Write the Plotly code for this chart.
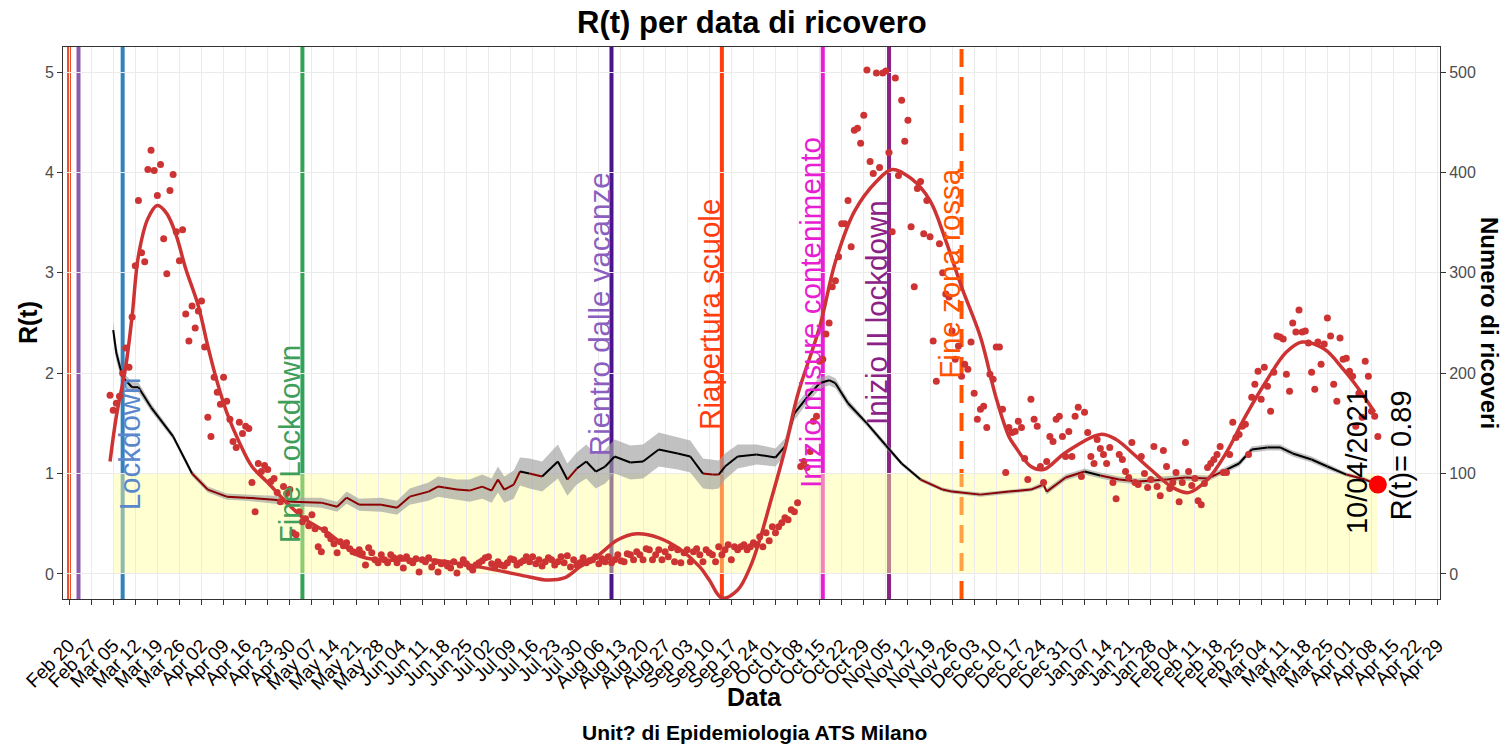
import plotly.graph_objects as go
import pandas as pd

FONT = "Liberation Sans, Arial, sans-serif"

# ---------------- data: daily hospital admissions (right axis) ----------------
ric_start_1 = "2020-03-04"
ric_1 = [178, 163, 170, 177, 200, 225, 206, 256, 307, 372,
         320, 311, 403, 422, 402, 377, 408, 334, 299, 382,
         398, 341, 312, 343, 259, 232, 267, 245, 262, 272,
         226, 156, 137, 196, 181, 169, 196, 172, 154, 132,
         126, 151, 140, 147, 145, 91, 62, 110, 102, 108,
         104, 92, 95, 81, 72, 87, 80, 84, 41, 39,
         62, 52, 55, 48, 59, 45, 27, 22, 44, 39,
         35, 30, 21, 32, 28, 31, 25, 22, 21, 24, 20]
ric_start_2 = "2020-05-24"
ric_2 = [9, 26, 21, 14, 11, 19, 14, 11, 19, 16,
         11, 16, 6, 17, 13, 11, 15, 2, 14, 12,
         16, 7, 12, 2, 10, 11, 8, 6, 12, 1,
         9, 14, 10, 7, 4, 9, 11, 13, 16, 17,
         10, 7, 12, 9, 8, 11, 15, 14, 9, 11,
         13, 17, 12, 17, 10, 14, 8, 12, 16, 14,
         9, 12, 17, 11, 18, 7, 14, 9, 11, 16,
         11, 13, 14, 17, 10, 15, 12, 17, 11, 14,
         19, 13, 12, 20, 19, 14, 22, 19, 14, 25,
         24, 14, 19, 24, 14, 22, 17, 26, 12, 24,
         11, 21, 24, 12, 22, 25, 19, 12, 24, 21,
         19, 12, 27, 19, 24, 29, 14, 27, 24, 27,
         29, 24, 27, 31, 29, 37, 27, 41, 33, 47,
         41, 47, 51, 56, 54, 64, 62, 71]
ric_start_3 = "2020-10-09"
ric_3 = [107, 112, 106, 122, 152, 157, 212, 214, 239, 250,
         286, 292, 316, 349, 349, 372, 326, 442, 444, 429,
         457, 502, 411, 399, 499, 405, 499, 501, 420, 341,
         494, 397, 472, 431, 452, 346, 286, 384, 391, 339,
         372, 336, 232, 192, 329, 300, 279, 276, 242, 214,
         227, 197, 209, 204, 231, 180, 154, 164, 167, 146,
         199, 194, 226, 226, 164, 101, 146, 141, 142, 152]
ric_start_4 = "2020-12-18"
ric_4 = [146, 115, 94, 174, 154, 147, 107, 91, 112, 137,
         132, 154, 157, 137, 117, 142, 117, 157, 166, 97,
         161, 141, 117, 110, 134, 125, 119, 110, 126, 91,
         75, 119, 114, 102, 96, 131, 91, 89, 117, 100,
         86, 94, 127, 87, 78, 123, 107, 85, 91, 101,
         72, 91, 131, 102, 88, 95, 73, 69, 90, 106,
         110, 114, 119, 127, 101, 101, 119, 151, 136, 139,
         147, 149, 119, 176, 189, 202, 174, 206, 187, 162,
         201, 237, 236, 234, 199, 182, 250, 241, 263, 241,
         242, 230, 201, 184, 231, 209, 229, 255, 237, 189,
         172, 235, 214, 215, 202, 197, 147, 180, 156, 212,
         197, 162, 157, 137]

# smoothed admissions curve (right axis)
fit_dates = ["2020-03-04", "2020-03-06", "2020-03-09", "2020-03-11", "2020-03-13", "2020-03-16",
             "2020-03-19", "2020-03-22", "2020-03-25", "2020-03-28", "2020-04-01", "2020-04-04",
             "2020-04-07", "2020-04-10", "2020-04-14", "2020-04-18", "2020-04-23", "2020-04-29",
             "2020-05-05", "2020-05-12", "2020-05-22", "2020-05-29", "2020-06-13", "2020-06-29",
             "2020-07-15", "2020-07-20", "2020-07-26", "2020-07-31", "2020-08-06", "2020-08-12",
             "2020-08-18", "2020-08-25", "2020-09-01", "2020-09-07", "2020-09-10", "2020-09-14",
             "2020-09-19", "2020-09-23", "2020-09-26", "2020-09-29", "2020-10-04", "2020-10-08",
             "2020-10-15", "2020-10-20", "2020-10-26", "2020-11-02", "2020-11-07", "2020-11-13",
             "2020-11-19", "2020-11-24", "2020-11-29", "2020-12-05", "2020-12-10", "2020-12-14",
             "2020-12-16", "2020-12-21", "2020-12-25", "2021-01-01", "2021-01-12", "2021-01-17",
             "2021-01-22", "2021-01-28", "2021-02-04", "2021-02-09", "2021-02-15", "2021-02-21",
             "2021-02-27", "2021-03-06", "2021-03-12", "2021-03-17", "2021-03-24", "2021-03-30",
             "2021-04-04", "2021-04-09"]
fit_values = [112, 157, 207, 257, 317, 354,
              367, 359, 337, 304, 267, 227,
              191, 161, 131, 107, 91, 71,
              54, 41, 18, 14, 14, 7,
              -3, -6, -4, 7, 19, 34,
              40, 36, 24, 7, -6, -24,
              -16, 7, 34, 67, 124, 178,
              246, 311, 361, 391, 403, 394,
              372, 332, 286, 236, 175, 137,
              127, 107, 104, 121, 139, 134,
              121, 104, 86, 81, 94, 121,
              157, 194, 221, 231, 224, 204,
              184, 161]

# R(t) estimate with credible band (left axis)
rt_dates = ["2020-03-05", "2020-03-06", "2020-03-08", "2020-03-11", "2020-03-13", "2020-03-17",
            "2020-03-24", "2020-03-30", "2020-04-04", "2020-04-10", "2020-04-16", "2020-04-25",
            "2020-05-01", "2020-05-10", "2020-05-15", "2020-05-18", "2020-05-22", "2020-05-29",
            "2020-06-03", "2020-06-07", "2020-06-13", "2020-06-16", "2020-06-18", "2020-06-22",
            "2020-06-26", "2020-06-30", "2020-07-03", "2020-07-05", "2020-07-07", "2020-07-10",
            "2020-07-12", "2020-07-15", "2020-07-19", "2020-07-24", "2020-07-27", "2020-07-30",
            "2020-08-02", "2020-08-05", "2020-08-08", "2020-08-11", "2020-08-16", "2020-08-20",
            "2020-08-25", "2020-08-31", "2020-09-04", "2020-09-08", "2020-09-11", "2020-09-13",
            "2020-09-15", "2020-09-19", "2020-09-25", "2020-10-01", "2020-10-04", "2020-10-07",
            "2020-10-11", "2020-10-15", "2020-10-18", "2020-10-20", "2020-10-24", "2020-10-30",
            "2020-11-05", "2020-11-10", "2020-11-16", "2020-11-23", "2020-11-26", "2020-12-05",
            "2020-12-14", "2020-12-21", "2020-12-25", "2020-12-26", "2021-01-01", "2021-01-07",
            "2021-01-12", "2021-01-18", "2021-01-24", "2021-02-02", "2021-02-08", "2021-02-15",
            "2021-02-21", "2021-02-25", "2021-03-01", "2021-03-06", "2021-03-10", "2021-03-14",
            "2021-03-20", "2021-03-25", "2021-03-31", "2021-04-06", "2021-04-10"]
rt_values = [2.43, 2.20, 1.96, 1.86, 1.86, 1.66,
             1.37, 1.00, 0.84, 0.77, 0.76, 0.74,
             0.72, 0.71, 0.67, 0.76, 0.69, 0.69,
             0.66, 0.77, 0.82, 0.87, 0.86, 0.84,
             0.83, 0.87, 0.83, 0.94, 0.84, 0.89,
             1.02, 1.00, 0.97, 1.12, 0.94, 1.05,
             1.12, 1.02, 1.07, 1.17, 1.11, 1.12,
             1.24, 1.20, 1.17, 1.00, 0.99, 0.99,
             1.07, 1.17, 1.19, 1.16, 1.27, 1.60,
             1.76, 1.90, 1.93, 1.90, 1.70, 1.50,
             1.28, 1.10, 0.94, 0.84, 0.82, 0.79,
             0.82, 0.84, 0.89, 0.82, 0.96, 1.02,
             0.98, 0.94, 0.92, 0.94, 0.96, 0.95,
             1.04, 1.10, 1.24, 1.26, 1.26, 1.20,
             1.14, 1.07, 0.99, 0.94, 0.89]
rt_halfwidth = [0.09, 0.08, 0.06, 0.05, 0.05, 0.04,
                0.03, 0.03, 0.03, 0.03, 0.03, 0.04,
                0.04, 0.05, 0.05, 0.06, 0.06, 0.07,
                0.07, 0.08, 0.09, 0.10, 0.10, 0.10,
                0.11, 0.12, 0.12, 0.13, 0.13, 0.14,
                0.14, 0.15, 0.15, 0.17, 0.16, 0.16,
                0.17, 0.17, 0.17, 0.17, 0.17, 0.17,
                0.17, 0.16, 0.16, 0.15, 0.15, 0.14,
                0.13, 0.12, 0.10, 0.09, 0.08, 0.07,
                0.06, 0.06, 0.05, 0.05, 0.04, 0.03,
                0.03, 0.02, 0.02, 0.02, 0.02, 0.02,
                0.02, 0.02, 0.03, 0.03, 0.03, 0.03,
                0.03, 0.03, 0.03, 0.03, 0.03, 0.03,
                0.03, 0.03, 0.03, 0.03, 0.03, 0.03,
                0.03, 0.03, 0.02, 0.02, 0.02]

last_date = "2021-04-10"
last_rt = 0.89
band_start = "2020-03-05"

# events
ev_dates = ["2020-02-20", "2020-02-23", "2020-03-08", "2020-05-04", "2020-08-10",
            "2020-09-14", "2020-10-16", "2020-11-06", "2020-11-29"]
ev_colors = ["#E6502D", "#8C5BAF", "#3182BD", "#31A354", "#4A148C",
             "#FF3D10", "#E81ED2", "#8B2286", "#FF5500"]
ev_dash = ["solid"] * 8 + ["18px,10px"]
lab_text = ["Lockdown", "Fine Lockdown", "Rientro dalle vacanze", "Riapertura scuole",
            "Inizio misure contenimento", "Inizio II lockdown", "Fine zona rossa"]
lab_x = ["2020-03-10 07:00", "2020-04-30", "2020-08-06 10:00", "2020-09-10 05:00",
         "2020-10-12 07:00", "2020-11-02 05:00", "2020-11-25 07:00"]
lab_y = [1.30, 1.29, 2.59, 2.59, 2.60, 2.60, 2.99]
lab_colors = ["#5A87CC", "#3E9E5A", "#8B5FBF", "#FF3D10", "#E81ED2", "#8B2286", "#FF5500"]

x_tick0 = "2020-02-20"
x_range = ["2020-02-18 02:00", "2021-04-29 17:00"]

# ---------------- figure ----------------
fig = go.Figure()

shapes = []
for d, c, ds in zip(ev_dates, ev_colors, ev_dash):
    shapes.append(dict(type="line", xref="x", yref="paper", x0=d, x1=d, y0=0, y1=1,
                       line=dict(color=c, width=4, dash=ds), layer="below"))
shapes.append(dict(type="rect", xref="x", yref="y", x0=band_start, x1=last_date, y0=0, y1=1,
                   fillcolor="#FFFF99", opacity=0.45, line=dict(width=0), layer="below"))

rt_dt = pd.to_datetime(rt_dates)
upper = [v + h for v, h in zip(rt_values, rt_halfwidth)]
lower = [v - h for v, h in zip(rt_values, rt_halfwidth)]
fig.add_trace(go.Scatter(x=rt_dt, y=upper, mode="lines", line=dict(width=0),
                         hoverinfo="skip", showlegend=False))
fig.add_trace(go.Scatter(x=rt_dt, y=lower, mode="lines", line=dict(width=0), fill="tonexty",
                         fillcolor="rgba(160,160,160,0.65)", hoverinfo="skip", showlegend=False))

bx, by, rx, ry = [], [], [], []
for i in range(len(rt_values) - 1):
    if (rt_values[i] + rt_values[i + 1]) / 2 >= 1:
        tx, ty = bx, by
    else:
        tx, ty = rx, ry
    tx += [rt_dt[i], rt_dt[i + 1], None]
    ty += [rt_values[i], rt_values[i + 1], None]
fig.add_trace(go.Scatter(x=bx, y=by, mode="lines", line=dict(color="black", width=2),
                         showlegend=False))
fig.add_trace(go.Scatter(x=rx, y=ry, mode="lines", line=dict(color="#8B0000", width=2),
                         showlegend=False))

for start, vals in [(ric_start_1, ric_1), (ric_start_2, ric_2),
                    (ric_start_3, ric_3), (ric_start_4, ric_4)]:
    dts = pd.date_range(start, periods=len(vals), freq="D")
    fig.add_trace(go.Scatter(x=dts, y=vals, mode="markers", yaxis="y2",
                             marker=dict(color="#CD3333", size=7), showlegend=False))

fig.add_trace(go.Scatter(x=pd.to_datetime(fit_dates), y=fit_values, mode="lines", yaxis="y2",
                         line=dict(color="#CD3333", width=3.5, shape="spline", smoothing=1.0),
                         showlegend=False))

fig.add_trace(go.Scatter(x=[last_date], y=[last_rt], mode="markers",
                         marker=dict(color="#FF0000", size=18), showlegend=False))

annotations = []
for t, x, y, c in zip(lab_text, lab_x, lab_y, lab_colors):
    annotations.append(dict(text=t, x=x, y=y, xref="x", yref="y", textangle=-90,
                            showarrow=False, xanchor="center", yanchor="middle",
                            font=dict(family=FONT, size=29.5, color=c)))
annotations.append(dict(text="10/04/2021", x="2021-04-03 10:00", y=1.115, xref="x", yref="y",
                        textangle=-90, showarrow=False,
                        font=dict(family=FONT, size=29, color="black")))
annotations.append(dict(text="R(t)= " + f"{last_rt:.2f}", x="2021-04-17 14:00", y=1.18, xref="x",
                        yref="y", textangle=-90, showarrow=False,
                        font=dict(family=FONT, size=29, color="black")))
annotations.append(dict(text="<b>R(t) per data di ricovero</b>", x=0.5, y=1.045, xref="paper",
                        yref="paper", showarrow=False, xanchor="center", yanchor="middle",
                        font=dict(family=FONT, size=31, color="black")))
annotations.append(dict(text="<b>Data</b>", x=0.5025, y=-0.1775, xref="paper", yref="paper",
                        showarrow=False, xanchor="center", yanchor="middle",
                        font=dict(family=FONT, size=25, color="black")))
annotations.append(dict(text="<b>Unit? di Epidemiologia ATS Milano</b>", x=0.5025, y=-0.241,
                        xref="paper", yref="paper", showarrow=False, xanchor="center",
                        yanchor="middle", font=dict(family=FONT, size=21, color="black")))
annotations.append(dict(text="<b>R(t)</b>", x=-0.0254, y=0.5, xref="paper", yref="paper",
                        showarrow=False, textangle=-90, xanchor="center", yanchor="middle",
                        font=dict(family=FONT, size=25, color="black")))
annotations.append(dict(text="<b>Numero di ricoveri</b>", x=1.0363, y=0.5, xref="paper",
                        yref="paper", showarrow=False, textangle=90, xanchor="center",
                        yanchor="middle", font=dict(family=FONT, size=24, color="black")))

fig.update_layout(
    width=1506, height=746,
    margin=dict(l=63, r=66, t=47, b=147, autoexpand=False),
    paper_bgcolor="white", plot_bgcolor="white",
    font=dict(family=FONT),
    shapes=shapes, annotations=annotations,
    showlegend=False,
    xaxis=dict(type="date", range=x_range, tick0=x_tick0, dtick=7 * 86400000,
               tickformat="%b %d", tickangle=-45, ticks="outside", ticklen=5,
               tickcolor="#333333", showgrid=True, gridcolor="#EBEBEB", gridwidth=1,
               showline=True, linecolor="#333333", linewidth=1, mirror=True,
               zeroline=False, automargin=False, ticklabelstandoff=22,
               tickfont=dict(family=FONT, size=19, color="black")),
    yaxis=dict(range=[-0.25, 5.25], tickvals=[0, 1, 2, 3, 4, 5], ticks="outside", ticklen=5,
               tickcolor="#333333", showgrid=True, gridcolor="#EBEBEB", gridwidth=1,
               showline=True, linecolor="#333333", linewidth=1, mirror=True, zeroline=False,
               automargin=False,
               tickfont=dict(family=FONT, size=16, color="#4D4D4D")),
    yaxis2=dict(range=[-25, 525], tickvals=[0, 100, 200, 300, 400, 500], overlaying="y",
                side="right", ticks="outside", ticklen=5, tickcolor="#333333", showgrid=False,
                zeroline=False, showline=False, automargin=False,
                tickfont=dict(family=FONT, size=16, color="#4D4D4D")),
)

fig.write_html("out.html", config={"displayModeBar": False},
               post_script="document.body.style.margin='0px';document.body.style.overflow='hidden';")
